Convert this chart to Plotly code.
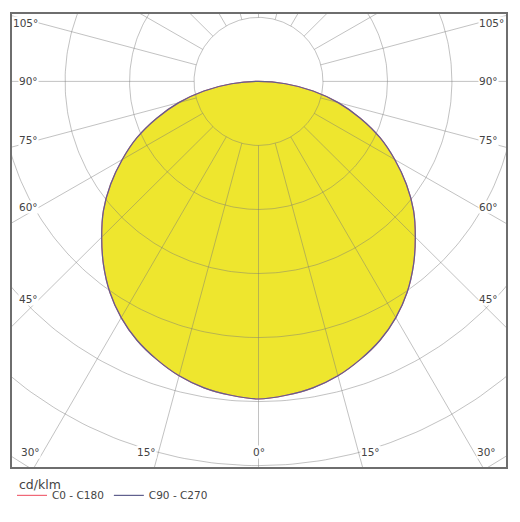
import numpy as np
import plotly.graph_objects as go

# Luminous intensity (cd/klm) vs. gamma angle from nadir, both planes
gamma_deg = [0, 5, 10, 15, 20, 25, 30, 35, 40, 45, 50, 55, 60, 65, 70, 75, 80, 85, 90]
c0_c180 = [248, 246, 243, 238, 231, 223, 213, 201, 187, 172, 157, 140, 122, 104, 84, 64, 43, 21, 0]
c90_c270 = [248, 246, 243, 238, 231, 223, 213, 201, 187, 172, 157, 140, 122, 104, 84, 64, 43, 21, 0]

ring_values = [50, 100, 150, 200, 250, 300, 350]
spoke_angles = list(range(0, 360, 15))
bottom_labels = [-30, -15, 0, 15, 30]
side_labels = [45, 60, 75, 90, 105]

# figure geometry (px, the page adds an 8px body margin)
k = 64.6 / 50          # px per cd/klm
cx, cy = 251, 72       # pole position in the figure
bx0, bx1, by0, by1 = 4, 499, 4, 461
W, H = 504, 506
plot_w, plot_h = bx1 - bx0, by1 - by0

grid_col = 'rgba(120,120,120,0.45)'
text_col = '#444444'


def to_xy(g, r):
    g = np.radians(np.asarray(g, dtype=float))
    r = np.asarray(r, dtype=float)
    return r * np.sin(g), -r * np.cos(g)


def full_curve(vals):
    g = [-a for a in gamma_deg[::-1]] + gamma_deg[1:]
    r = vals[::-1] + vals[1:]
    return to_xy(g, r)


fig = go.Figure()

# filled distribution
fx, fy = full_curve(c90_c270)
fig.add_trace(go.Scatter(x=fx, y=fy, fill='toself', fillcolor='#EEE62E',
                         line=dict(width=0, shape='spline'), mode='lines', showlegend=False,
                         hoverinfo='skip'))

# rings
t = np.linspace(0, 360, 361)
gx, gy = [], []
for rv in ring_values:
    x, y = to_xy(t, np.full_like(t, rv))
    gx += list(x) + [None]
    gy += list(y) + [None]
# spokes from first ring outward
for a in spoke_angles:
    x, y = to_xy([a, a], [ring_values[0], 500])
    gx += list(x) + [None]
    gy += list(y) + [None]
fig.add_trace(go.Scatter(x=gx, y=gy, mode='lines', line=dict(color=grid_col, width=1),
                         showlegend=False, hoverinfo='skip'))

x0, y0 = full_curve(c0_c180)
fig.add_trace(go.Scatter(x=x0, y=y0, mode='lines', name='C0 - C180',
                         line=dict(color='#F06878', width=1.2, shape='spline')))
x9, y9 = full_curve(c90_c270)
fig.add_trace(go.Scatter(x=x9, y=y9, mode='lines', name='C90 - C270',
                         line=dict(color='#60608E', width=1.2, shape='spline')))

# angle labels
annotations = []
font = dict(family='DejaVu Sans', size=10.5, color=text_col)
xd_in = (bx1 - 28 - cx) / k
for a in side_labels:
    r = xd_in / np.sin(np.radians(a))
    yv = -r * np.cos(np.radians(a))
    for side in (-1, 1):
        annotations.append(dict(x=side * xd_in, y=yv, xref='x', yref='y', text=f'{a}°',
                                showarrow=False, font=font, bgcolor='white', borderpad=0,
                                xanchor='right' if side < 0 else 'left', yanchor='middle'))
yd_in = (cy - (by1 - 22)) / k
for a in bottom_labels:
    r = -yd_in / np.cos(np.radians(a))
    xv = r * np.sin(np.radians(a))
    anchor = 'center' if a == 0 else ('right' if a < 0 else 'left')
    annotations.append(dict(x=xv, y=yd_in, xref='x', yref='y', text=f'{abs(a)}°',
                            showarrow=False, font=font, bgcolor='white', borderpad=0,
                            xanchor=anchor, yanchor='top',
                            xshift=12 * np.sin(np.radians(a))))

# unit caption above the legend row (paper coords are relative to the plot area)
annotations.append(dict(x=5 / plot_w, y=-18 / plot_h, xref='paper', yref='paper',
                        text='cd/klm', showarrow=False, xanchor='left', yanchor='middle',
                        font=dict(family='DejaVu Sans', size=12.5, color=text_col)))

axis_common = dict(showgrid=False, zeroline=False, showticklabels=False, ticks='',
                   showline=True, mirror=True, linecolor='#6E6E6E', linewidth=1.5)
fig.update_layout(
    width=W, height=H,
    margin=dict(l=bx0, r=W - bx1, t=by0, b=H - by1),
    plot_bgcolor='white',
    paper_bgcolor='white',
    xaxis=dict(range=[(bx0 - cx) / k, (bx1 - cx) / k], **axis_common),
    yaxis=dict(range=[(cy - by1) / k, (cy - by0) / k], **axis_common),
    annotations=annotations,
    showlegend=True,
    legend=dict(orientation='h', x=0, xanchor='left', y=-14 / plot_h, yanchor='top',
                font=dict(family='DejaVu Sans', size=10.5, color=text_col),
                itemwidth=30, bgcolor='rgba(0,0,0,0)'),
    font=dict(family='DejaVu Sans', color=text_col),
)

fig.write_html('out.html')
